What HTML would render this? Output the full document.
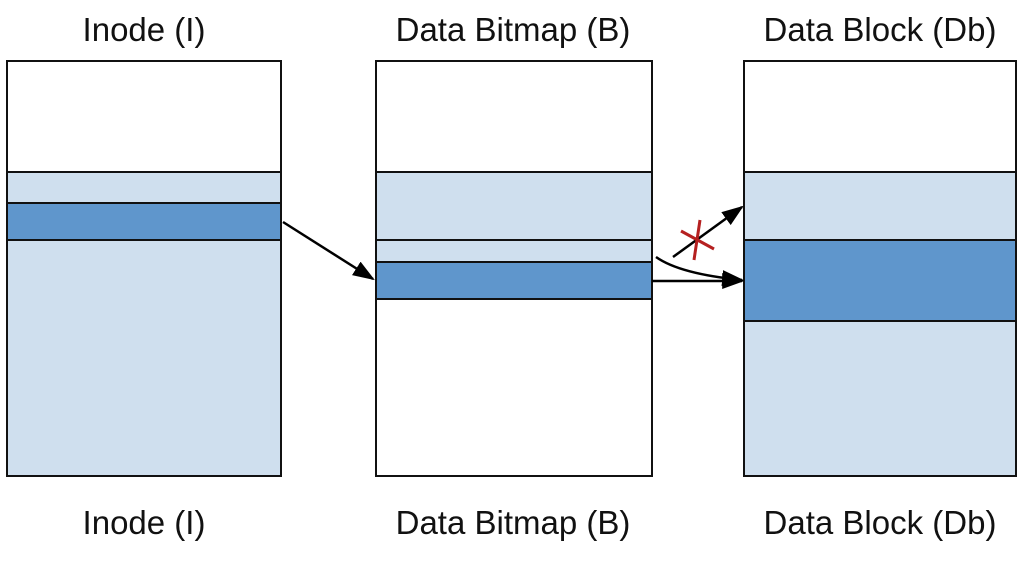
<!DOCTYPE html>
<html><head><style>
body{margin:0;background:#fff;width:1024px;height:559px;overflow:hidden}
</style></head><body>
<svg width="1024" height="559" xmlns="http://www.w3.org/2000/svg" font-family="Liberation Sans, Arial, sans-serif" font-size="33">
<defs><marker id="a" markerWidth="10" markerHeight="10" refX="9" refY="5" orient="auto" markerUnits="userSpaceOnUse" viewBox="0 0 10 10"><path d="M0,0 L10,5 L0,10 z" fill="#000"/></marker>
<marker id="b" viewBox="0 0 10 10" refX="9" refY="5" markerWidth="22" markerHeight="16" orient="auto" markerUnits="userSpaceOnUse" preserveAspectRatio="none"><path d="M0,0 L10,5 L0,10 z" fill="#000"/></marker></defs>
<g text-anchor="middle" fill="#111">
<text x="144" y="41">Inode (I)</text>
<text x="513" y="41">Data Bitmap (B)</text>
<text x="880" y="41">Data Block (Db)</text>
<text x="144" y="534">Inode (I)</text>
<text x="513" y="534">Data Bitmap (B)</text>
<text x="880" y="534">Data Block (Db)</text>
</g>
<g stroke="#111" stroke-width="2">
<rect x="7" y="61" width="274" height="415" fill="#fff"/>
<rect x="7" y="172" width="274" height="304" fill="#cfdfee"/>
<rect x="7" y="203" width="274" height="37" fill="#5f96cc"/>
<rect x="376" y="61" width="276" height="415" fill="#fff"/>
<rect x="376" y="172" width="276" height="68" fill="#cfdfee"/>
<rect x="376" y="240" width="276" height="22" fill="#cfdfee"/>
<rect x="376" y="262" width="276" height="37" fill="#5f96cc"/>
<rect x="744" y="61" width="272" height="415" fill="#fff"/>
<rect x="744" y="172" width="272" height="304" fill="#cfdfee"/>
<rect x="744" y="240" width="272" height="81" fill="#5f96cc"/>
</g>
<g stroke="#000" stroke-width="2.5" fill="none">
<line x1="283" y1="222" x2="373" y2="279" marker-end="url(#b)"/>
<line x1="652" y1="281" x2="742" y2="281" marker-end="url(#b)"/>
<path d="M656,257 Q680,274 742,280" marker-end="url(#b)"/>
<line x1="673" y1="257" x2="742" y2="207" marker-end="url(#b)"/>
</g>
<g stroke="#b52020" stroke-width="3">
<line x1="681" y1="231" x2="714" y2="249"/>
<line x1="700" y1="220" x2="694" y2="260"/>
</g>
</svg>
</body></html>
